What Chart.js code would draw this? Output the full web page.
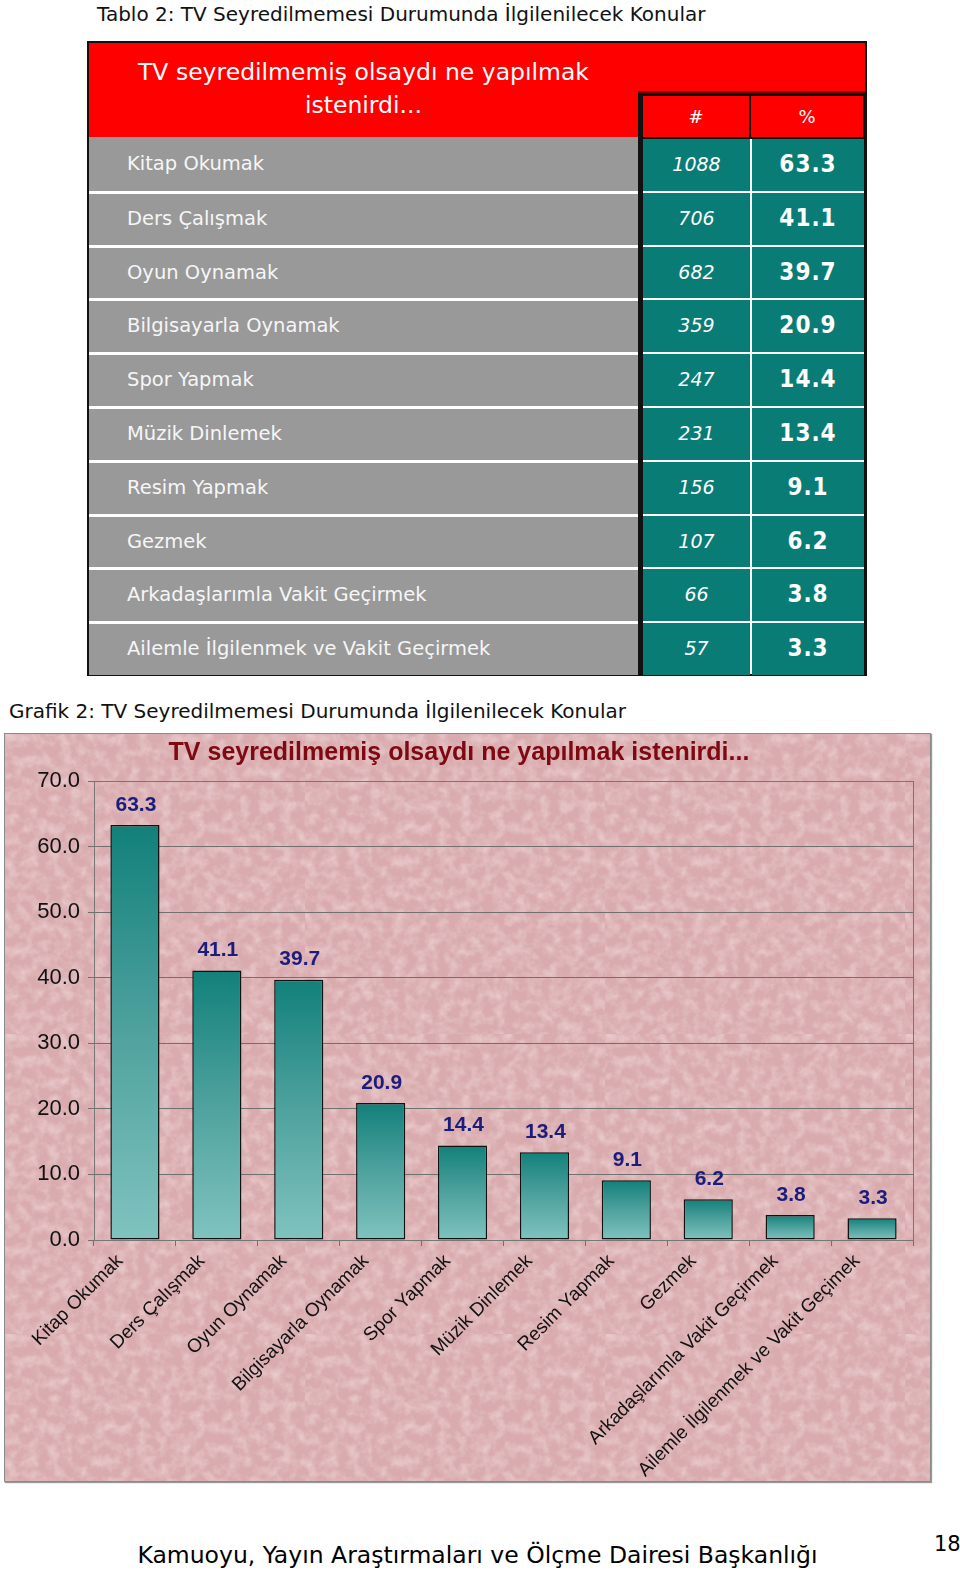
<!DOCTYPE html>
<html>
<head>
<meta charset="utf-8">
<script src="https://cdn.jsdelivr.net/npm/chart.js@4.4.1/dist/chart.umd.min.js"></script>
<style>
  html,body{margin:0;padding:0;background:#fff;}
  body{width:960px;height:1572px;position:relative;overflow:hidden;font-family:"DejaVu Sans",sans-serif;}
  .abs{position:absolute;}
  .cap{font-size:20px;color:#111;white-space:nowrap;}
  #tbl{left:87px;top:41px;width:776px;height:631px;border:2px solid #111;background:#ff0000;}
  .hdr{color:#fff;font-size:23.5px;text-align:center;line-height:33px;white-space:nowrap;}
  .gray{background:#999;color:#f6f6f6;font-size:19.5px;line-height:54px;padding-left:38px;box-sizing:border-box;white-space:nowrap;}
  .teal{background:#0a7c76;color:#fff;text-align:center;}
  .num{font-style:italic;font-size:19px;}
  .pct{font-family:"DejaVu Sans Condensed","DejaVu Sans",sans-serif;font-weight:bold;font-size:24px;letter-spacing:1px;}
  .sub{background:#ff0000;color:#fff;font-size:18px;text-align:center;}
  #chartBox{left:4px;top:733px;width:925px;height:747px;border:1px solid #8a8a8a;box-shadow:1px 1px 1px #999;
    background-color:#d9abae;
    background-image:url("data:image/svg+xml;utf8,<svg xmlns='http://www.w3.org/2000/svg' width='300' height='300'><filter id='n'><feTurbulence type='fractalNoise' baseFrequency='0.09' numOctaves='3' seed='5'/><feColorMatrix values='0 0 0 0 1  0 0 0 0 0.92  0 0 0 0 0.93  0.8 0 0 0 -0.3'/></filter><rect width='100%' height='100%' filter='url(%23n)'/></svg>");}
  #foot{left:0;width:955px;top:1541px;text-align:center;font-size:23.5px;color:#000;}
</style>
</head>
<body>
<div class="abs cap" style="left:97px;top:2px;">Tablo 2: TV Seyredilmemesi Durumunda İlgilenilecek Konular</div>
<div id="tbl" class="abs"></div>

<div class="abs cap" style="left:9px;top:699px;">Grafik 2: TV Seyredilmemesi Durumunda İlgilenilecek Konular</div>
<div id="chartBox" class="abs"><canvas id="c" width="925" height="747"></canvas></div>

<div id="foot" class="abs">Kamuoyu, Yayın Araştırmaları ve Ölçme Dairesi Başkanlığı</div>
<div class="abs" style="left:934px;top:1532px;font-size:21px;">18</div>

<script>
// ---- data ----
const tableTitle = ["TV seyredilmemiş olsaydı ne yapılmak", "istenirdi..."];
const tableHeaders = ["#", "%"];
const categories = [
  "Kitap Okumak", "Ders Çalışmak", "Oyun Oynamak", "Bilgisayarla Oynamak", "Spor Yapmak",
  "Müzik Dinlemek", "Resim Yapmak", "Gezmek", "Arkadaşlarımla Vakit Geçirmek",
  "Ailemle İlgilenmek ve Vakit Geçirmek"
];
const chartLabels = [
  "Kitap Okumak", "Ders Çalışmak", "Oyun Oynamak", "Bilgisayarla Oynamak", "Spor Yapmak",
  "Müzik Dinlemek", "Resim Yapmak", "Gezmek", "Arkadaşlarımla Vakit Geçirmek",
  "Ailemle İlgilenmek ve Vakit Geçimek"
];
const counts = [1088, 706, 682, 359, 247, 231, 156, 107, 66, 57];
const percents = [63.3, 41.1, 39.7, 20.9, 14.4, 13.4, 9.1, 6.2, 3.8, 3.3];
const chartTitle = "TV seyredilmemiş olsaydı ne yapılmak istenirdi...";
const yMin = 0, yMax = 70, yStep = 10;

// ---- table ----
const tbl = document.getElementById('tbl');
function add(parent, cls, style, text){
  const d = document.createElement('div');
  d.className = 'abs ' + cls;
  Object.assign(d.style, style);
  if (text !== undefined) d.textContent = text;
  parent.appendChild(d);
  return d;
}
add(tbl, 'hdr', {left:'0px', top:'13px', width:'549px'}, tableTitle[0]);
add(tbl, 'hdr', {left:'0px', top:'46px', width:'549px'}, tableTitle[1]);
const sb = add(tbl, '', {left:'549px', top:'48px', width:'227px', height:'46px', background:'#111'});
add(sb, '', {left:'0px', top:'0px', width:'227px', height:'2px', background:'#7a0000'});
add(sb, 'sub', {left:'5px', top:'5px', width:'106px', height:'41px', lineHeight:'41px'}, tableHeaders[0]);
add(sb, 'sub', {left:'113px', top:'5px', width:'112px', height:'41px', lineHeight:'41px'}, tableHeaders[1]);
const rowTop = 94, rowH = 53.8;
add(tbl, '', {left:'549px', top: rowTop+'px', width:'227px', height:(631-rowTop)+'px', background:'#111'});
categories.forEach((name, i) => {
  const top = rowTop + i*rowH;
  const sep = i === 0 ? 0 : 3;
  add(tbl, 'gray', {left:'0px', top:(top+sep)+'px', width:'549px', height:(rowH-sep)+'px', lineHeight:(rowH-sep)+'px'}, name);
  if (i > 0) add(tbl, '', {left:'0px', top:top+'px', width:'549px', height:'3px', background:'#fff'});
  const tsep = 2;
  add(tbl, 'teal num', {left:'554px', top:(top+tsep)+'px', width:'107px', height:(rowH-tsep)+'px', lineHeight:(rowH-tsep)+'px'}, String(counts[i]));
  add(tbl, 'teal pct', {left:'663px', top:(top+tsep)+'px', width:'112px', height:(rowH-tsep)+'px', lineHeight:(rowH-tsep)+'px'}, percents[i].toFixed(1));
  if (i > 0) add(tbl, '', {left:'554px', top:top+'px', width:'221px', height:'2px', background:'#fff'});
});
add(tbl, '', {left:'661px', top:(rowTop+2)+'px', width:'2px', height:(631-rowTop-2)+'px', background:'#fff'});

// ---- chart ----
const valueLabels = {
  id: 'valueLabels',
  afterDatasetsDraw(chart){
    const ctx = chart.ctx;
    const meta = chart.getDatasetMeta(0);
    ctx.save();
    ctx.font = 'bold 21px "Liberation Sans", Arial, sans-serif';
    ctx.fillStyle = '#1c1c7a';
    ctx.textAlign = 'center';
    ctx.textBaseline = 'middle';
    meta.data.forEach((bar, i) => {
      ctx.fillText(percents[i].toFixed(1), bar.x + 1, bar.y - 20);
    });
    ctx.restore();
  }
};
const plotBorder = {
  id: 'plotBorder',
  beforeDatasetsDraw(chart){
    const {ctx, chartArea:a} = chart;
    ctx.save();
    ctx.strokeStyle = '#777';
    ctx.lineWidth = 1;
    ctx.strokeRect(Math.round(a.left)+0.5, Math.round(a.top)+0.5, Math.round(a.right-a.left), Math.round(a.bottom-a.top));
    ctx.restore();
  }
};
function barGradient(c){
  const chart = c.chart;
  const area = chart.chartArea;
  if (!area || !chart.scales.y) return '#3e9b96';
  const y = chart.scales.y;
  const top = y.getPixelForValue(c.raw);
  const bot = y.getPixelForValue(0);
  const g = chart.ctx.createLinearGradient(0, top, 0, bot);
  g.addColorStop(0, '#12807a');
  g.addColorStop(0.5, '#4fa29e');
  g.addColorStop(1, '#80c3bf');
  return g;
}
new Chart(document.getElementById('c'), {
  type: 'bar',
  data: {
    labels: chartLabels,
    datasets: [{
      data: percents,
      backgroundColor: barGradient,
      borderColor: '#111',
      borderWidth: 1.5,
      borderSkipped: false,
      barPercentage: 0.6,
      categoryPercentage: 1.0
    }]
  },
  options: {
    responsive: false,
    animation: false,
    layout: { padding: { left: 0, right: 17, top: 0, bottom: 0 } },
    plugins: {
      legend: { display: false },
      tooltip: { enabled: false },
      title: {
        display: true,
        text: chartTitle,
        color: '#7d0a12',
        font: { family: '"Liberation Sans", Arial, sans-serif', size: 25, weight: 'bold' },
        padding: { top: 4, bottom: 13 }
      }
    },
    scales: {
      y: {
        min: yMin, max: yMax,
        ticks: {
          stepSize: yStep,
          color: '#111',
          padding: 8,
          font: { family: '"Liberation Sans", Arial, sans-serif', size: 22 },
          callback: v => Number(v).toFixed(1)
        },
        grid: { color: '#707070', lineWidth: 1, tickLength: 6 },
        border: { color: '#707070', width: 1 },
        afterFit(s){ s.width = 89; }
      },
      x: {
        offset: true,
        ticks: {
          color: '#111',
          autoSkip: false,
          minRotation: 45, maxRotation: 45,
          padding: 4,
          labelOffset: -15,
          font: { family: '"Liberation Sans", Arial, sans-serif', size: 19 }
        },
        grid: { display: true, drawOnChartArea: false, offset: true, color: '#707070', tickLength: 6 },
        border: { color: '#707070', width: 1 },
        afterFit(s){ s.height = 241; }
      }
    }
  },
  plugins: [valueLabels, plotBorder]
});
</script>
</body>
</html>
